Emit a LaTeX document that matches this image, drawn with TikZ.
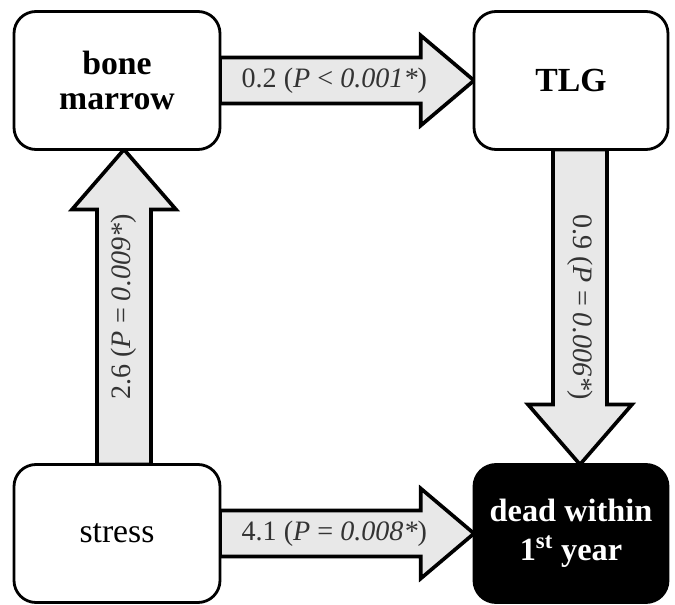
\documentclass[tikz,border=0pt]{standalone}
\usepackage{fontspec}
\setmainfont{Liberation Serif}
\usetikzlibrary{positioning, calc, backgrounds}

\begin{document}
\begin{tikzpicture}[
    % --- STYLES ---
    base/.style={draw, line width=2pt, rounded corners=0.55cm, align=center, fill=white, outer sep=0pt, minimum height=3.45cm, font=\fontsize{24}{25}\selectfont},
    factor/.style={base, minimum width=5.15cm},
    marker/.style={base, minimum width=4.85cm},
    outcome/.style={marker, fill=black, text=white},
    fatarrow/.style n args={3}{draw=black, line width=2.6pt, fill=gray!18, line join=miter,
        to path={let \p1=($(\tikztotarget)-(\tikztostart)$), \n1={atan2(\y1,\x1)} in
            ($(\tikztostart)+(\n1+90:#1)$)
            -- ($(\tikztotarget)+(\n1+180:#3)+(\n1+90:#1)$)
            -- ($(\tikztotarget)+(\n1+180:#3)+(\n1+90:#2)$)
            -- (\tikztotarget)
            -- ($(\tikztotarget)+(\n1+180:#3)+(\n1-90:#2)$)
            -- ($(\tikztotarget)+(\n1+180:#3)+(\n1-90:#1)$)
            -- ($(\tikztostart)+(\n1-90:#1)$) -- cycle}},
    hfat/.style={fatarrow={0.575cm}{1.125cm}{1.33cm}},
    vfat/.style={fatarrow={0.675cm}{1.3cm}{1.5cm}},
    coef/.style={font=\fontsize{20}{22}\selectfont, text=black!80}
]

    \useasboundingbox (-2.925,2.0125) rectangle (13.95,-13.1125);

    % --- NODES ---
    \node[factor, font=\fontsize{24}{25}\selectfont\bfseries] (bm) {bone\\marrow};
    \node[marker, right=6.35cm of bm, font=\fontsize{24}{25}\selectfont\bfseries] (tlg) {TLG};
    \node[factor, below=7.875cm of bm] (stress) {stress};
    \node[outcome, below=7.875cm of tlg, font=\fontsize{23}{28}\selectfont\bfseries] (dead) {dead within\\1\textsuperscript{st} year};

    % --- FAT ARROWS ---
    \begin{scope}[on background layer]
        \draw[hfat] (bm.east) to (tlg.west);
        \draw[vfat] ([xshift=0.175cm]stress.north) to ([xshift=0.175cm]bm.south);
        \draw[vfat] ([xshift=0.225cm]tlg.south) to ([xshift=0.225cm]dead.north);
        \draw[hfat] (stress.east) to (dead.west);
    \end{scope}

    % --- COEFFICIENTS ---
    \path (bm.east) -- node[coef, pos=0.45] {0.2 (\textit{P} < \textit{0.001*})} (tlg.west);
    \path ([xshift=0.175cm]stress.north) -- node[coef, rotate=90] {2.6 (\textit{P} = \textit{0.009*})} ([xshift=0.175cm]bm.south);
    \path ([xshift=0.225cm]tlg.south) -- node[coef, rotate=-90] {0.9 (\textit{P} = \textit{0.006*})} ([xshift=0.225cm]dead.north);
    \path (stress.east) -- node[coef, pos=0.45] {4.1 (\textit{P} = \textit{0.008*})} (dead.west);

\end{tikzpicture}
\end{document}
